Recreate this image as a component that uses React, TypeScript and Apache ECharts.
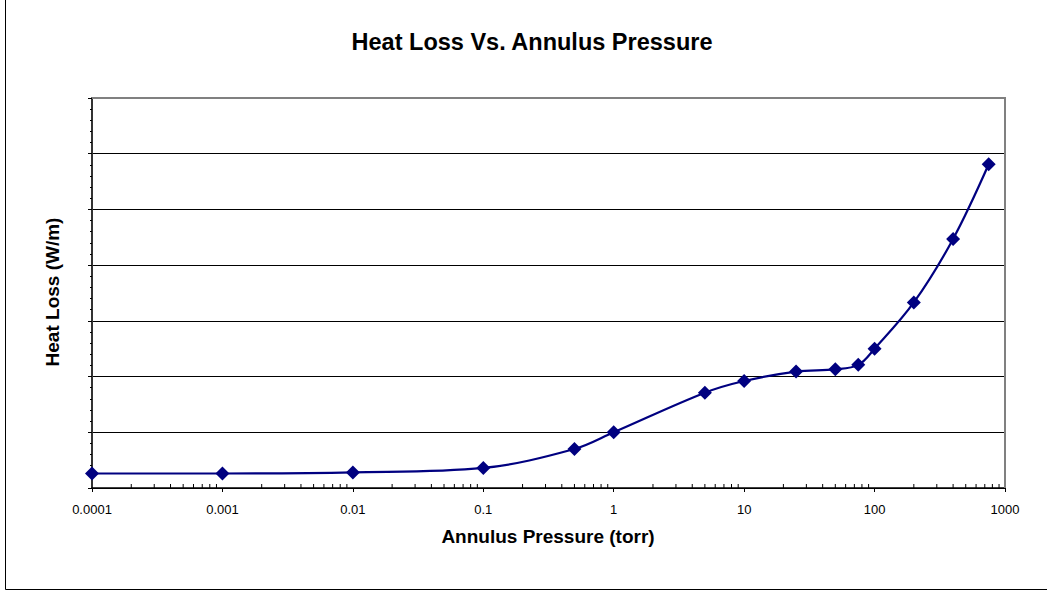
import React, { useEffect, useRef } from "react";
import * as echarts from "echarts";

const pressures = [0.0001, 0.001, 0.01, 0.1, 0.5, 1, 5, 10, 25, 50, 75, 100, 200, 400, 750];
const heatLoss = [2.6, 2.6, 2.8, 3.6, 7.0, 10.0, 17.1, 19.2, 20.9, 21.3, 22.1, 25.0, 33.3, 44.7, 58.1];
const xTickLabels = ["0.0001", "0.001", "0.01", "0.1", "1", "10", "100", "1000"];
const decades = [0.0001, 0.001, 0.01, 0.1, 1, 10, 100];
const minorMultipliers = [2, 3, 4, 5, 6, 7, 8, 9];

const titleText = "Heat Loss Vs. Annulus Pressure";
const xTitle = "Annulus Pressure (torr)";
const yTitle = "Heat Loss (W/m)";

export default function App() {
  const ref = useRef<HTMLDivElement>(null);
  useEffect(() => {
    if (!ref.current) return;
    const chart = echarts.init(ref.current, null, { renderer: "svg" });
    const minorTicks: number[][] = [];
    decades.forEach((d) => minorMultipliers.forEach((m) => minorTicks.push([d * m, 0])));
    const font = "'Liberation Sans', Arial, sans-serif";
    chart.setOption({
      animation: false,
      backgroundColor: "#ffffff",
      grid: { left: 92, right: 42, top: 98, bottom: 104, containLabel: false },
      xAxis: {
        type: "log",
        logBase: 10,
        min: 0.0001,
        max: 1000,
        splitLine: { show: false },
        axisLine: { show: true, lineStyle: { color: "#000", width: 1.5 } },
        axisTick: { show: true, length: 4, lineStyle: { color: "#000" } },
        minorTick: { show: false },
        axisLabel: {
          margin: 15,
          fontSize: 13,
          color: "#000",
          fontFamily: font,
          formatter: (v: number) => {
            const i = Math.round(Math.log10(v)) + 4;
            return xTickLabels[i] ?? "";
          },
        },
      },
      yAxis: {
        type: "value",
        min: 0,
        max: 70,
        interval: 10,
        axisLine: { show: true, lineStyle: { color: "#333", width: 2 } },
        axisTick: { show: true, length: 4, lineStyle: { color: "#000" } },
        minorTick: { show: true, splitNumber: 5, length: 2, lineStyle: { color: "#000" } },
        axisLabel: { show: false },
        splitLine: { show: true, lineStyle: { color: "#000", width: 1 } },
      },
      graphic: [
        {
          type: "rect",
          shape: { x: 5.5, y: -10, width: 1100, height: 599.5 },
          style: { fill: "none", stroke: "#000", lineWidth: 1 },
          silent: true,
        },
        {
          type: "polyline",
          z: 100,
          shape: { points: [[92, 98], [1005, 98], [1005, 488]] },
          style: { fill: "none", stroke: "#808080", lineWidth: 2 },
          silent: true,
        },
        {
          type: "text",
          x: 532,
          y: 42,
          style: {
            text: titleText,
            fontSize: 23.5,
            fontWeight: "bold",
            fontFamily: font,
            fill: "#000",
            align: "center",
            verticalAlign: "middle",
          },
        },
        {
          type: "text",
          x: 548,
          y: 536,
          style: {
            text: xTitle,
            fontSize: 19,
            fontWeight: "bold",
            fontFamily: font,
            fill: "#000",
            align: "center",
            verticalAlign: "middle",
          },
        },
        {
          type: "text",
          x: 52,
          y: 292,
          rotation: Math.PI / 2,
          style: {
            text: yTitle,
            fontSize: 19,
            fontWeight: "bold",
            fontFamily: font,
            fill: "#000",
            align: "center",
            verticalAlign: "middle",
          },
        },
      ],
      series: [
        {
          type: "custom",
          silent: true,
          data: minorTicks,
          encode: { x: 0, y: 1 },
          clip: false,
          renderItem: (_params: any, api: any) => {
            const p = api.coord([api.value(0), 0]);
            return {
              type: "line",
              shape: { x1: p[0], y1: p[1], x2: p[0], y2: p[1] - 4 },
              style: { stroke: "#000", lineWidth: 1 },
            };
          },
          z: 1,
        },
        {
          type: "line",
          data: pressures.map((p, i) => [p, heatLoss[i]]),
          smooth: 0.35,
          symbol: "diamond",
          symbolSize: 14,
          lineStyle: { color: "#000080", width: 2.2 },
          itemStyle: { color: "#000080" },
          z: 3,
        },
      ],
    });
    return () => chart.dispose();
  }, []);
  return (
    <div
      ref={ref}
      style={{ position: "fixed", left: 0, top: 0, width: 1047, height: 592, background: "#fff" }}
    />
  );
}
